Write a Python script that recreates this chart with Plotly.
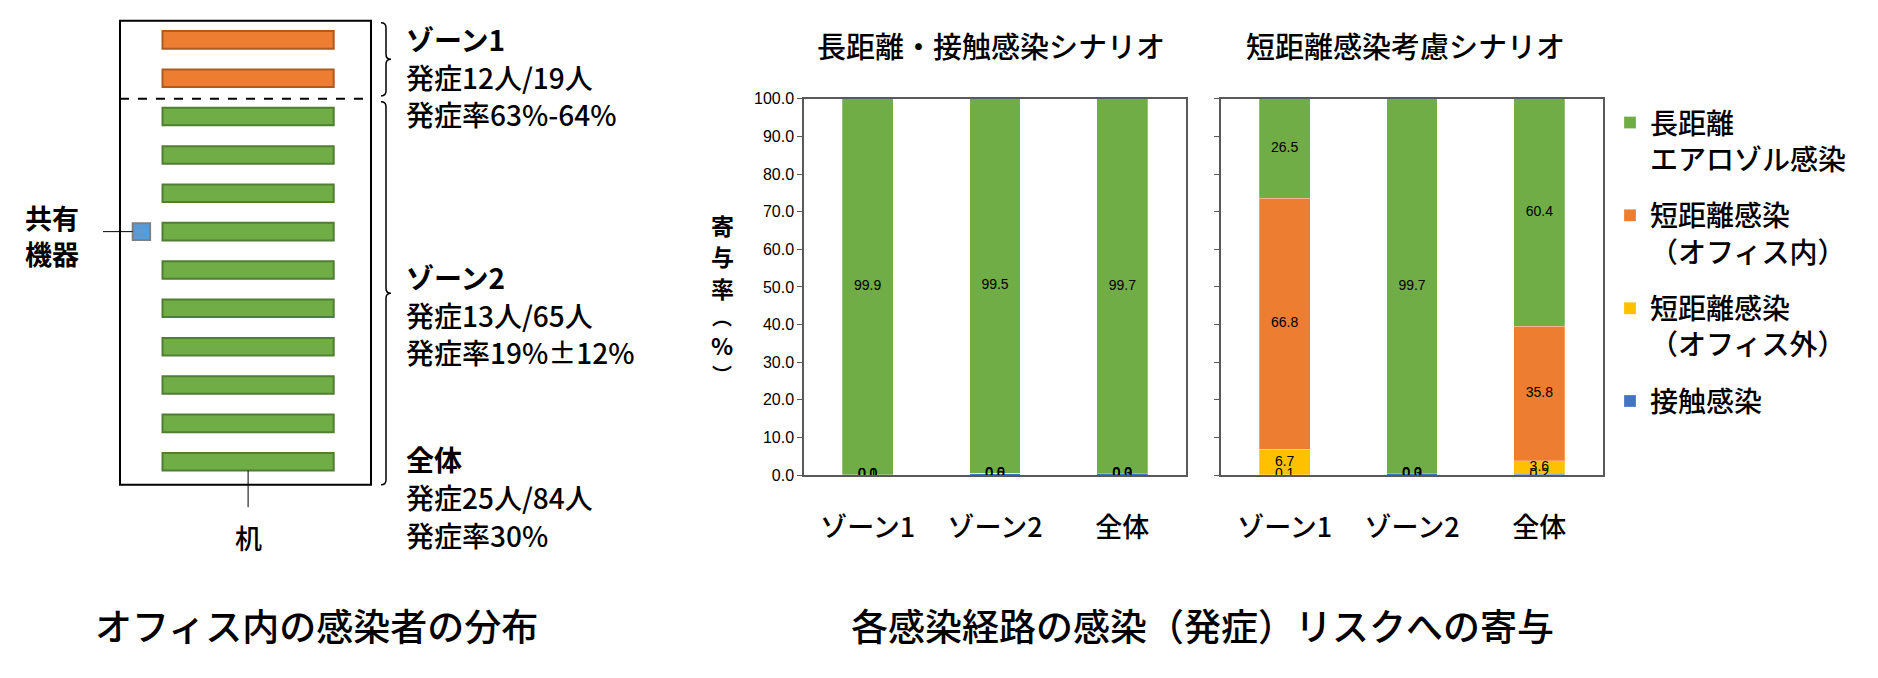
import numpy as np
import plotly.graph_objects as go

# ---------------- data ----------------
categories = ["ゾーン1", "ゾーン2", "全体"]

# scenario A: 長距離・接触感染シナリオ
a_long = [99.9, 99.5, 99.7]
a_short_in = [0.0, 0.0, 0.0]
a_short_out = [0.0, 0.0, 0.0]
a_contact = [0.1, 0.5, 0.3]

# scenario B: 短距離感染考慮シナリオ
b_long = [26.5, 99.7, 60.4]
b_short_in = [66.8, 0.0, 35.8]
b_short_out = [6.7, 0.0, 3.6]
b_contact = [0.1, 0.3, 0.2]

scenario_titles = ["長距離・接触感染シナリオ", "短距離感染考慮シナリオ"]
series_names = ["接触感染", "短距離感染<br>（オフィス外）", "短距離感染<br>（オフィス内）", "長距離<br>エアロゾル感染"]
y_ticks = [0, 10, 20, 30, 40, 50, 60, 70, 80, 90, 100]
y_title_chars = ["寄", "与", "率", "︵", "%", "︶"]

# office layout (left diagram)
desk_zones = [1, 1, 2, 2, 2, 2, 2, 2, 2, 2, 2, 2]
device_label = ["共有", "機器"]
desk_label = "机"
zone_text = [
    ["ゾーン1", "発症12人/19人", "発症率63%-64%"],
    ["ゾーン2", "発症13人/65人", "発症率19%±12%"],
    ["全体", "発症25人/84人", "発症率30%"],
]
caption_left = "オフィス内の感染者の分布"
caption_right = "各感染経路の感染（発症）リスクへの寄与"

# ---------------- styles ----------------
OFF = 8            # default page body margin
FW, FH = 1870, 670
JP = "Noto Sans CJK JP"
NUM = "Liberation Sans"
C_GREEN, C_ORANGE, C_YELLOW, C_BLUE = "#70AD47", "#ED7D31", "#FFC000", "#4472C4"
series_colors = [C_BLUE, C_YELLOW, C_ORANGE, C_GREEN]
legend_rank = [4, 3, 2, 1]


def X(px):
    return (px - OFF) / FW


def Y(py):
    return 1 - (py - OFF) / FH


fig = go.Figure()

scen_data = [
    [a_contact, a_short_out, a_short_in, a_long],
    [b_contact, b_short_out, b_short_in, b_long],
]

for s, data in enumerate(scen_data):
    xa = "x" if s == 0 else "x2"
    ya = "y" if s == 0 else "y2"
    for k, vals in enumerate(data):
        fig.add_trace(go.Bar(
            x=categories, y=vals, name=series_names[k],
            marker=dict(color=series_colors[k], line=dict(color="rgba(255,255,255,0.5)", width=0.5)),
            xaxis=xa, yaxis=ya, legendgroup=f"g{k}", legendrank=legend_rank[k],
            showlegend=(s == 0), hoverinfo="skip",
        ))
    arr = np.array(data, dtype=float)
    tops = np.cumsum(arr, axis=0)
    mids = tops - arr / 2
    xs, ys, ts = [], [], []
    for k in range(arr.shape[0]):
        for j, c in enumerate(categories):
            xs.append(c)
            ys.append(mids[k, j])
            ts.append(f"{arr[k, j]:.1f}")
    fig.add_trace(go.Scatter(
        x=xs, y=ys, text=ts, mode="text", textposition="middle center",
        textfont=dict(family=NUM, size=14, color="black"),
        xaxis=xa, yaxis=ya, showlegend=False, hoverinfo="skip",
    ))

axis_common = dict(showline=True, linecolor="#595959", linewidth=1.5, mirror=True,
                   showgrid=False, zeroline=False, fixedrange=True)
ydom = [Y(479), Y(93)]
fig.update_layout(
    width=FW, height=FH, autosize=False,
    margin=dict(l=0, r=0, t=0, b=0),
    paper_bgcolor="white", plot_bgcolor="white",
    barmode="stack", bargap=0.6,
    font=dict(family=JP, color="black"),
    xaxis=dict(domain=[X(804), X(1186)], anchor="y", ticks="",
               tickfont=dict(family=JP, size=27, weight=500), ticklabelstandoff=28, **axis_common),
    yaxis=dict(domain=ydom, anchor="x", range=[0, 100], tickvals=y_ticks, tickformat=".1f",
               ticks="outside", ticklen=5, tickcolor="#595959",
               tickfont=dict(family=NUM, size=16), **axis_common),
    xaxis2=dict(domain=[X(1221), X(1603)], anchor="y2", ticks="",
                tickfont=dict(family=JP, size=27, weight=500), ticklabelstandoff=28, **axis_common),
    yaxis2=dict(domain=ydom, anchor="x2", range=[0, 100], tickvals=y_ticks,
                ticks="outside", ticklen=5, tickcolor="#595959", showticklabels=False,
                **axis_common),
    legend=dict(x=X(1610), y=Y(92), xanchor="left", yanchor="top",
                font=dict(family=JP, size=28, weight=500), valign="top",
                traceorder="grouped", tracegroupgap=17, bgcolor="rgba(0,0,0,0)"),
)

ann = []
# chart titles
for s, cx in enumerate([991, 1405]):
    ann.append(dict(x=X(cx), y=Y(38), xref="paper", yref="paper", text=scenario_titles[s],
                    showarrow=False, font=dict(family=JP, size=29, weight=500),
                    xanchor="center", yanchor="middle"))
# vertical (upright) y-axis title
y_title_pos = [222, 254.5, 287, 316.5, 346, 375.5]
for ch, py in zip(y_title_chars, y_title_pos):
    fs = 20 if ch in ("︵", "︶") else 23
    ann.append(dict(x=X(722), y=Y(py), xref="paper", yref="paper",
                    text=f"<b>{ch}</b>", showarrow=False, borderpad=0,
                    font=dict(family=JP, size=fs), xanchor="center", yanchor="middle"))
# captions
ann.append(dict(x=X(316), y=Y(633), xref="paper", yref="paper", text=caption_left, showarrow=False,
                font=dict(family=JP, size=37, weight=500), xanchor="center", yanchor="middle"))
ann.append(dict(x=X(1202), y=Y(633), xref="paper", yref="paper", text=caption_right, showarrow=False,
                font=dict(family=JP, size=37, weight=500), xanchor="center", yanchor="middle"))

shapes = []
# room
room_l, room_r, room_t, room_b = 120, 371, 13, 489
shapes.append(dict(type="rect", xref="paper", yref="paper", x0=X(room_l), x1=X(room_r),
                   y0=Y(room_b), y1=Y(room_t), line=dict(color="black", width=2)))
# desks
desk_y0, pitch, dh = 32.5, 39.35, 18
desk_l, desk_r = 162.5, 333.7
centers = [desk_y0 + i * pitch for i in range(len(desk_zones))]
for i, z in enumerate(desk_zones):
    fill, edge = (C_ORANGE, "#AE5A21") if z == 1 else (C_GREEN, "#507E32")
    shapes.append(dict(type="rect", xref="paper", yref="paper", x0=X(desk_l), x1=X(desk_r),
                       y0=Y(centers[i] + dh / 2), y1=Y(centers[i] - dh / 2),
                       fillcolor=fill, line=dict(color=edge, width=2)))
# dashed zone boundary
n1 = desk_zones.count(1)
yb = (centers[n1 - 1] + centers[n1]) / 2 + 1.5
shapes.append(dict(type="line", xref="paper", yref="paper", x0=X(room_l), x1=X(room_r),
                   y0=Y(yb), y1=Y(yb), line=dict(color="black", width=2, dash="dash")))
# shared device
dev_c = centers[5]
shapes.append(dict(type="rect", xref="paper", yref="paper", x0=X(132.7), x1=X(150.1),
                   y0=Y(dev_c + 8.5), y1=Y(dev_c - 8.5), fillcolor="#5B9BD5",
                   line=dict(color="#7F7F7F", width=2)))
shapes.append(dict(type="line", xref="paper", yref="paper", x0=X(103), x1=X(132.7),
                   y0=Y(dev_c), y1=Y(dev_c), line=dict(color="black", width=1)))
# desk leader
desk_mid = (desk_l + desk_r) / 2
shapes.append(dict(type="line", xref="paper", yref="paper", x0=X(desk_mid), x1=X(desk_mid),
                   y0=Y(centers[-1] + dh / 2), y1=Y(512), line=dict(color="black", width=1)))


def brace(top, bot, xl=381, xs=386, xt=391, r=5):
    mid = (top + bot) / 2
    p = (f"M {X(xl)},{Y(top)} Q {X(xs)},{Y(top)} {X(xs)},{Y(top + r)} "
         f"L {X(xs)},{Y(mid - r)} Q {X(xs)},{Y(mid)} {X(xt)},{Y(mid)} "
         f"Q {X(xs)},{Y(mid)} {X(xs)},{Y(mid + r)} "
         f"L {X(xs)},{Y(bot - r)} Q {X(xs)},{Y(bot)} {X(xl)},{Y(bot)}")
    return dict(type="path", xref="paper", yref="paper", path=p, line=dict(color="black", width=1.5))


shapes.append(brace(15, 90))
shapes.append(brace(96, 489))

# left diagram labels
for i, t in enumerate(device_label):
    ann.append(dict(x=X(52), y=Y(215 + i * 36.5), xref="paper", yref="paper", text=f"<b>{t}</b>",
                    showarrow=False, borderpad=0, font=dict(family=JP, size=27),
                    xanchor="center", yanchor="middle"))
ann.append(dict(x=X(desk_mid), y=Y(543), xref="paper", yref="paper", text=desk_label,
                showarrow=False, font=dict(family=JP, size=27, weight=500),
                xanchor="center", yanchor="middle"))
block_tops = [32, 276, 463]
line_gap = 38.5
for b, lines in enumerate(zone_text):
    for i, t in enumerate(lines):
        txt = f"<b>{t}</b>" if i == 0 else t
        ann.append(dict(x=X(405), y=Y(block_tops[b] + i * line_gap), xref="paper", yref="paper",
                        text=txt, showarrow=False, borderpad=0,
                        font=dict(family=JP, size=28, weight=500),
                        xanchor="left", yanchor="middle"))

fig.update_layout(annotations=ann, shapes=shapes)
fig.write_html("out.html")
